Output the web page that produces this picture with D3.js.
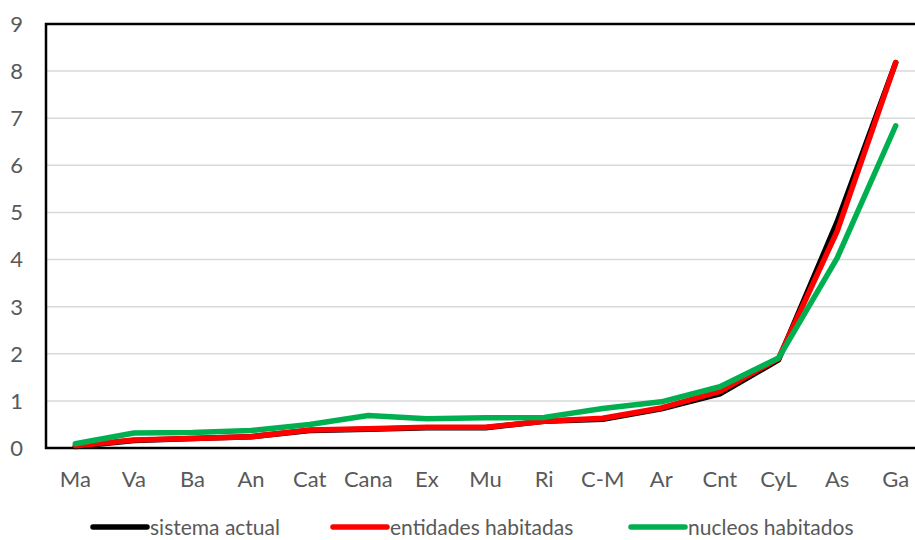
<!DOCTYPE html>
<html lang="es">
<head>
<meta charset="UTF-8">
<title>sistema actual / entidades / nucleos</title>
<script src="https://d3js.org/d3.v7.min.js"></script>
<style>
  body { margin: 0; background: #fff; }
  text { font-family: Lato, "Open Sans", sans-serif; fill: #595959; }
</style>
</head>
<body>
<svg id="chart" width="915" height="540"></svg>
<script>
// data
const regions = ["Ma", "Va", "Ba", "An", "Cat", "Cana", "Ex", "Mu", "Ri", "C-M", "Ar", "Cnt", "CyL", "As", "Ga"];
const sistemaActual = [0.03, 0.16, 0.2, 0.24, 0.37, 0.4, 0.43, 0.43, 0.57, 0.61, 0.83, 1.15, 1.87, 4.8, 8.18];
const entidadesHabitadas = [0.05, 0.17, 0.2, 0.24, 0.38, 0.41, 0.44, 0.44, 0.57, 0.63, 0.85, 1.2, 1.9, 4.6, 8.18];
const nucleosHabitados = [0.09, 0.32, 0.33, 0.37, 0.5, 0.69, 0.62, 0.64, 0.65, 0.84, 0.98, 1.3, 1.91, 4.03, 6.84];
const yTicks = [0, 1, 2, 3, 4, 5, 6, 7, 8, 9];

const series = [
    { name: "sistema actual", values: sistemaActual, color: "#000000" },
    { name: "entidades habitadas", values: entidadesHabitadas, color: "#ff0000" },
    { name: "nucleos habitados", values: nucleosHabitados, color: "#00b050" }
];

const svg = d3.select("#chart");
const plotLeft = 46, plotRight = 925, plotTop = 24, plotBottom = 448;

const x = d3.scaleBand().domain(regions).range([plotLeft, plotRight]);
const y = d3.scaleLinear().domain([0, 9]).range([plotBottom, plotTop]);

// gridlines
svg.append("g")
    .selectAll("line")
    .data(yTicks.slice(1, -1))
    .join("line")
    .attr("x1", plotLeft).attr("x2", plotRight)
    .attr("y1", d => y(d)).attr("y2", d => y(d))
    .attr("stroke", "#d9d9d9")
    .attr("stroke-width", 1.5);

// plot border
svg.append("rect")
    .attr("x", plotLeft).attr("y", plotTop)
    .attr("width", plotRight - plotLeft).attr("height", plotBottom - plotTop)
    .attr("fill", "none")
    .attr("stroke", "#000")
    .attr("stroke-width", 2.5);

// y tick labels
svg.append("g")
    .selectAll("text")
    .data(yTicks)
    .join("text")
    .attr("x", 23)
    .attr("y", d => y(d))
    .attr("dy", "0.36em")
    .attr("text-anchor", "end")
    .attr("font-size", 22)
    .text(d => d);

// x tick labels
svg.append("g")
    .selectAll("text")
    .data(regions)
    .join("text")
    .attr("x", d => x(d) + x.bandwidth() / 2)
    .attr("y", 479)
    .attr("dy", "0.36em")
    .attr("text-anchor", "middle")
    .attr("font-size", 22)
    .text(d => d);

// lines
const line = d3.line()
    .x((d, i) => x(regions[i]) + x.bandwidth() / 2)
    .y(d => y(d));

svg.append("g")
    .selectAll("path")
    .data(series)
    .join("path")
    .attr("d", d => line(d.values))
    .attr("fill", "none")
    .attr("stroke", d => d.color)
    .attr("stroke-width", 5.5)
    .attr("stroke-linecap", "round")
    .attr("stroke-linejoin", "round");

// legend
const legendX = [93, 333, 631];
const legend = svg.append("g")
    .selectAll("g")
    .data(series)
    .join("g")
    .attr("transform", (d, i) => `translate(${legendX[i]},527)`);

legend.append("line")
    .attr("x1", 0).attr("x2", 54)
    .attr("stroke", d => d.color)
    .attr("stroke-width", 5.5)
    .attr("stroke-linecap", "round");

legend.append("text")
    .attr("x", 57)
    .attr("dy", "0.36em")
    .attr("font-size", 21)
    .text(d => d.name);
</script>
</body>
</html>
